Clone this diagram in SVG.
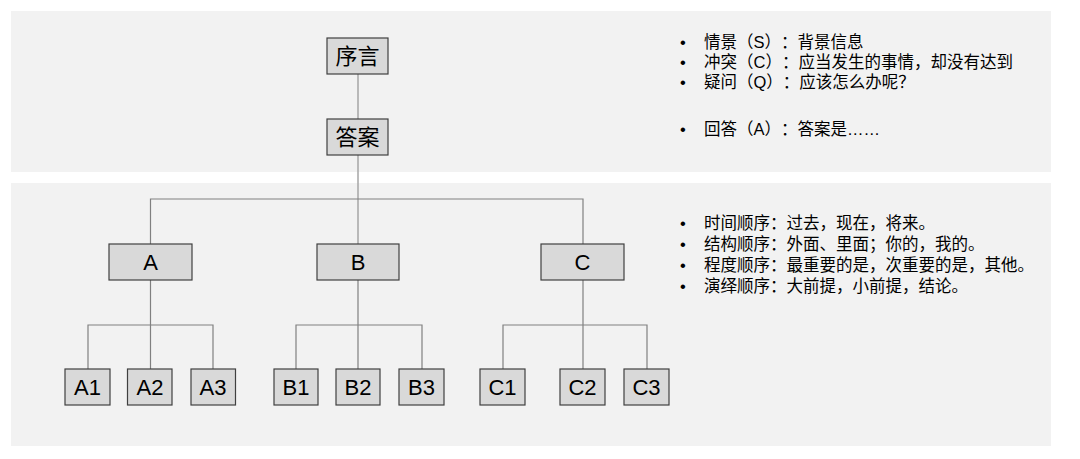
<svg xmlns="http://www.w3.org/2000/svg" width="1080" height="459" viewBox="0 0 1080 459">
<style>
.panel{fill:#f2f2f2}
.box{fill:#d9d9d9;stroke:#404040;stroke-width:1.2}
.lbl{font-family:"Liberation Sans","Noto Sans CJK SC",sans-serif;font-size:22px;fill:#000;text-anchor:middle}
.cn{font-family:"Noto Sans CJK SC",sans-serif;font-size:22px;fill:#000;text-anchor:middle}
.txt{font-family:"Liberation Sans","Noto Sans CJK SC",sans-serif;font-size:16.5px;fill:#000;text-spacing-trim:space-all}
.con{fill:none;stroke:#808080;stroke-width:1.2}
.con2{fill:none;stroke:#a6a6a6;stroke-width:1.5}
</style>
<rect width="1080" height="459" fill="#fff"/>
<rect class="panel" x="11" y="11" width="1040" height="161"/>
<rect class="panel" x="11" y="183" width="1040" height="263"/>
<g id="connectors">
<path class="con2" d="M358 74V119M358 155V244"/>
<path class="con" d="M150.5 244V199H583V244"/>
<path class="con" d="M150.5 280V325M88 369V325H213V369M150.5 325V369"/>
<path class="con" d="M358 280V325M296 369V325H422V369M358 325V369"/>
<path class="con" d="M583 280V325M503 369V325H647V369M583 325V369"/>
</g>
<g id="n-xuyan"><rect class="box" x="327" y="38" width="61" height="36"/><text class="cn" x="357.5" y="64">序言</text></g>
<g id="n-daan"><rect class="box" x="327" y="119" width="61" height="36"/><text class="cn" x="357.5" y="145">答案</text></g>
<g id="n-A"><rect class="box" x="109" y="244" width="83" height="36"/><text class="lbl" x="150.5" y="270">A</text></g>
<g id="n-B"><rect class="box" x="317" y="244" width="82" height="36"/><text class="lbl" x="358" y="270">B</text></g>
<g id="n-C"><rect class="box" x="541" y="244" width="83" height="36"/><text class="lbl" x="582.5" y="270">C</text></g>
<g id="n-A1"><rect class="box" x="65" y="369" width="45" height="36"/><text class="lbl" x="87.5" y="395">A1</text></g>
<g id="n-A2"><rect class="box" x="127.5" y="369" width="44.5" height="36"/><text class="lbl" x="150" y="395">A2</text></g>
<g id="n-A3"><rect class="box" x="191" y="369" width="44.5" height="36"/><text class="lbl" x="213" y="395">A3</text></g>
<g id="n-B1"><rect class="box" x="274" y="369" width="44" height="36"/><text class="lbl" x="296" y="395">B1</text></g>
<g id="n-B2"><rect class="box" x="336" y="369" width="44" height="36"/><text class="lbl" x="358" y="395">B2</text></g>
<g id="n-B3"><rect class="box" x="399" y="369" width="45" height="36"/><text class="lbl" x="421.5" y="395">B3</text></g>
<g id="n-C1"><rect class="box" x="480" y="369" width="45" height="36"/><text class="lbl" x="502.5" y="395">C1</text></g>
<g id="n-C2"><rect class="box" x="560" y="369" width="45" height="36"/><text class="lbl" x="582.5" y="395">C2</text></g>
<g id="n-C3"><rect class="box" x="624" y="369" width="45" height="36"/><text class="lbl" x="646.5" y="395">C3</text></g>
<g id="notes-top" class="txt">
<text x="680" y="48">•</text><text x="704" y="48">情景（S）：背景信息</text>
<text x="680" y="68">•</text><text x="704" y="68">冲突（C）：应当发生的事情，却没有达到</text>
<text x="680" y="88">•</text><text x="704" y="88">疑问（Q）：应该怎么办呢？</text>
<text x="680" y="135">•</text><text x="704" y="135">回答（A）：答案是……</text>
</g>
<g id="notes-bottom" class="txt">
<text x="680" y="229">•</text><text x="704" y="229">时间顺序：过去，现在，将来。</text>
<text x="680" y="250">•</text><text x="704" y="250">结构顺序：外面、里面；你的，我的。</text>
<text x="680" y="271">•</text><text x="704" y="271">程度顺序：最重要的是，次重要的是，其他。</text>
<text x="680" y="292">•</text><text x="704" y="292">演绎顺序：大前提，小前提，结论。</text>
</g>
</svg>
